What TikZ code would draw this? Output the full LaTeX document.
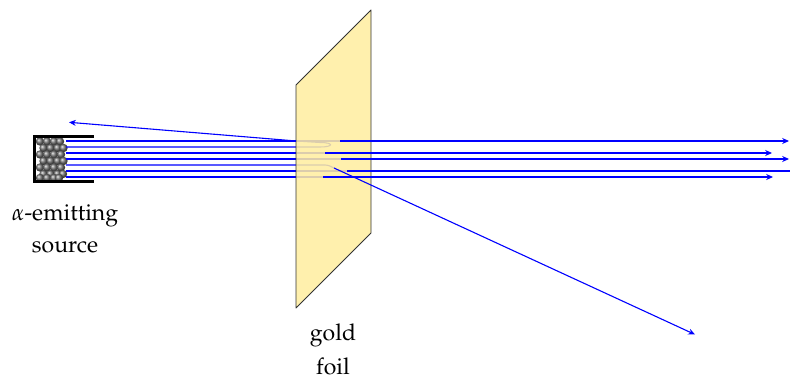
\documentclass[tikz,border=0pt]{standalone}
\usepackage[T1]{fontenc}
\usepackage{mathpazo}
\usetikzlibrary{arrows.meta}
\definecolor{foilgold}{RGB}{255,238,160}
\begin{document}
\begin{tikzpicture}[x=0.5pt,y=-0.5pt,
  ray/.style={blue, line width=0.55pt},
  rayarrow/.style={ray, -{Stealth[length=3.4pt,width=3pt]}},
  caption/.style={font=\fontsize{11.5}{14}\selectfont, inner sep=0pt, anchor=base},
  holder/.style={line width=1.5pt, black},
  foilsheet/.style={fill=foilgold, fill opacity=0.86, draw=none},
  foiledge/.style={draw=black!80, line width=0.45pt, line join=round},
  pellet/.style={shading=ball, ball color=gray!90!black}]
\useasboundingbox (0,0) rectangle (790,378);

% radioactive pellets inside the holder
\foreach \yy/\xs in {141.5/{40,47,54,60},
                     148/{43.5,50.5,57.5,63.5},
                     154.5/{40,47,54,61},
                     161/{43.5,50.5,57.5,63.5},
                     167.5/{40,47,54,61},
                     174/{43.5,50.5,57.5,63},
                     178/{40,47,54,59}}
  \foreach \xx in \xs
    \shade[pellet] (\xx,\yy) circle (2.1pt);

% lead holder
\coordinate (hTop) at (94,136.5);
\coordinate (hBot) at (94,181.5);
\draw[holder] (hTop) -- (34,136.5) -- (34,181.5) -- (hBot);

% corners of the foil
\coordinate (fTL) at (296,85);
\coordinate (fTR) at (371,10);
\coordinate (fBR) at (371,233);
\coordinate (fBL) at (296,308);

% points where the beams leave the source
\foreach \i/\yy in {1/141,2/147,3/153,4/159,5/165,6/171,7/177}
  \coordinate (s\i) at (66,\yy);

% beams behind the foil
\coordinate (u1) at (340,141);
\coordinate (u3) at (325,153);
\coordinate (u4) at (341,159);
\coordinate (u5) at (334,168);
\coordinate (u6) at (347,171);
\coordinate (u7) at (323,177);
\coordinate (back) at (296,141);

\draw[ray] (s1) -- (u1);
\draw[ray] (s2) -- (320,147) .. controls (334,147) and (334,142.5) .. (320,142.5) -- (back);
\draw[ray] (s3) -- (u3);
\draw[ray] (s4) -- (u4);
\draw[ray] (s5) -- (322,165) .. controls (328,165) .. (u5);
\draw[ray] (s6) -- (u6);
\draw[ray] (s7) -- (u7);

% the gold foil
\fill[foilsheet] (fTL) -- (fTR) -- (fBR) -- (fBL) -- cycle;
\draw[foiledge] (fTL) -- (fTR) -- (fBR) -- (fBL) -- cycle;

% beams in front of the foil
\coordinate (e1) at (789,141);
\coordinate (e3) at (772,153);
\coordinate (e4) at (789,159);
\coordinate (e5) at (695,334.5);
\coordinate (e6) at (800,171);
\coordinate (e7) at (773,177);
\coordinate (e2) at (69,122.3);

\draw[rayarrow] (u1) -- (e1);
\draw[rayarrow] (u3) -- (e3);
\draw[rayarrow] (u4) -- (e4);
\draw[rayarrow] (u5) -- (e5);
\draw[rayarrow] (u6) -- (e6);
\draw[rayarrow] (u7) -- (e7);
\draw[rayarrow] (back) -- (e2);

% labels
\node[caption] (srcA) at (65,221) {$\alpha$-emitting};
\node[caption] (srcB) at (65,253) {source};
\node[caption] (foilA) at (333,341) {gold};
\node[caption] (foilB) at (333,374) {foil};
\end{tikzpicture}
\end{document}
